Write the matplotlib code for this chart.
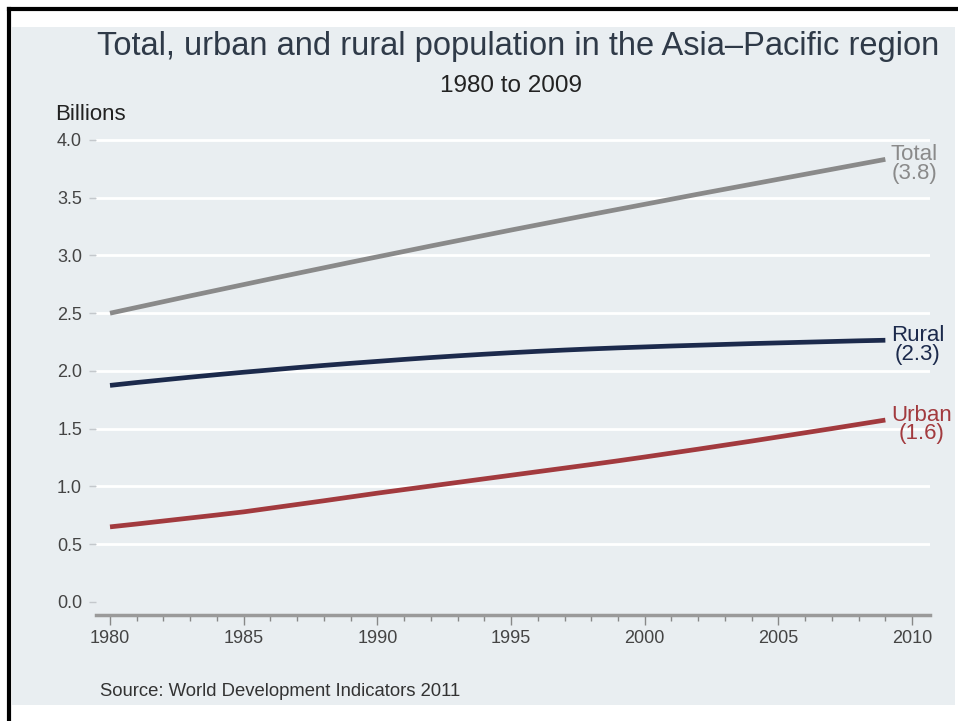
import numpy as np
import matplotlib.pyplot as plt
from matplotlib.patches import Rectangle
from matplotlib.ticker import MultipleLocator

years = list(range(1980, 2010))
total = [2.500, 2.550, 2.600, 2.650, 2.699, 2.748, 2.797, 2.845, 2.893, 2.941,
         2.988, 3.035, 3.082, 3.128, 3.174, 3.220, 3.265, 3.310, 3.355, 3.399,
         3.443, 3.487, 3.531, 3.574, 3.617, 3.660, 3.703, 3.746, 3.789, 3.832]
rural = [1.875, 1.900, 1.923, 1.946, 1.968, 1.989, 2.009, 2.029, 2.048, 2.066,
         2.083, 2.100, 2.116, 2.131, 2.145, 2.158, 2.170, 2.181, 2.191, 2.200,
         2.208, 2.216, 2.223, 2.230, 2.237, 2.243, 2.249, 2.255, 2.261, 2.266]
urban = [0.650, 0.675, 0.701, 0.727, 0.753, 0.780, 0.812, 0.844, 0.876, 0.909,
         0.942, 0.973, 1.004, 1.035, 1.066, 1.097, 1.128, 1.159, 1.190, 1.222,
         1.255, 1.289, 1.323, 1.358, 1.393, 1.429, 1.465, 1.501, 1.538, 1.575]
labels = ["Total\n(3.8)", "Rural\n(2.3)", "Urban\n(1.6)"]
colors = ["#8a8a8a", "#1c2a4c", "#a23a3e"]

plt.rcParams['font.family'] = ["Liberation Sans", "DejaVu Sans"]

bg = "#e9eef1"
fig = plt.figure(figsize=(9.58, 7.21), dpi=100)
fig.patch.set_facecolor("white")
# background panel and black frame
panel = Rectangle((12/958, 1 - 705/721), 943/958, 678/721,
                  transform=fig.transFigure, facecolor=bg,
                  edgecolor="none", zorder=-5)
fig.add_artist(panel)
fig.add_artist(plt.Line2D([9/958, 9/958], [0, 1 - 9/721], color="black",
                          lw=3, transform=fig.transFigure))
fig.add_artist(plt.Line2D([9/958, 1], [1 - 9/721, 1 - 9/721], color="black",
                          lw=3, transform=fig.transFigure))

ax = fig.add_axes([96/958, 1 - 615/721, 834/958, 480/721])
ax.set_zorder(2)
ax.set_facecolor(bg)
ax.set_xlim(1979.476, 2010.67)
ax.set_ylim(-0.113, 4.043)

for s in ["top", "right", "left"]:
    ax.spines[s].set_visible(False)
ax.spines["bottom"].set_color("#9a9a9a")
ax.spines["bottom"].set_linewidth(2.5)

yt = np.arange(0, 4.01, 0.5)
ax.set_yticks(yt)
ax.set_yticklabels(["%.1f" % v for v in yt])
ax.set_xticks(range(1980, 2011, 5))
ax.xaxis.set_minor_locator(MultipleLocator(1))
ax.tick_params(axis="y", colors="#c4c8cc", labelcolor="#444444", labelsize=13,
               length=5, width=1, pad=5)
ax.tick_params(axis="x", which="major", colors="#888888", labelcolor="#444444",
               labelsize=13, length=7, width=1, pad=4)
ax.tick_params(axis="x", which="minor", colors="#888888", length=4, width=1)
for v in yt[1:]:
    ax.axhline(v, color="white", lw=2, zorder=1)

for series, lab, c in zip([total, rural, urban], labels, colors):
    ax.plot(years, series, color=c, lw=3.4, solid_capstyle="butt", zorder=3)
    ax.annotate(lab, xy=(years[-1], series[-1]), xytext=(4, 11),
                textcoords="offset points", ha="left", va="top",
                color=c, fontsize=16, multialignment="center",
                linespacing=0.85, annotation_clip=False)

fig.text(518/958, 1 - 47/721, "Total, urban and rural population in the Asia\u2013Pacific region",
         ha="center", va="center", fontsize=23.5, color="#2f3a48")
fig.text(511/958, 1 - 86/721, "1980 to 2009", ha="center", va="center",
         fontsize=17.5, color="#222222")
fig.text(55/958, 1 - 115/721, "Billions", ha="left", va="center",
         fontsize=16, color="#222222")
fig.text(100/958, 1 - 692/721, "Source: World Development Indicators 2011",
         ha="left", va="center", fontsize=13.3, color="#333333")

fig.savefig("out.png", dpi=100)
